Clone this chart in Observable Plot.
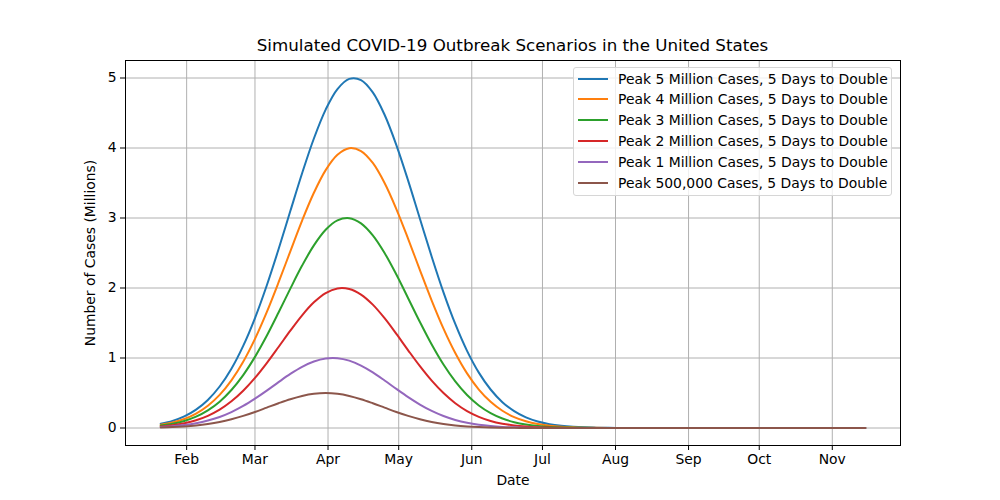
<!DOCTYPE html>
<html>
<head>
<meta charset="utf-8">
<script src="https://cdn.jsdelivr.net/npm/d3@7"></script>
<script src="https://cdn.jsdelivr.net/npm/@observablehq/plot@0.6"></script>
<style>
  html, body { margin: 0; padding: 0; background: white; }
  #wrap { position: relative; width: 1000px; height: 500px; font-family: "DejaVu Sans", sans-serif; }
  #title { position: absolute; left: 125px; width: 775px; top: 35px; text-align: center; font-size: 16.7px; line-height: 20px; color: black; }
  #legend { position: absolute; left: 573px; top: 67px; width: 319px; height: 129px; border: 1px solid #d6d6d6; border-radius: 3px; background: rgba(255,255,255,0.8); box-sizing: border-box; }
  .row { position: absolute; left: 0; height: 20px; font-size: 13.9px; line-height: 20px; color: black; white-space: nowrap; }
  .swatch { position: absolute; left: 4px; top: 9px; width: 30px; height: 0; border-top: 2px solid; }
  .lab { position: absolute; left: 44px; top: 0; }
</style>
</head>
<body>
<div id="wrap">
  <div id="chart"></div>
  <div id="title">Simulated COVID-19 Outbreak Scenarios in the United States</div>
  <div id="legend"></div>
</div>
<script>
// ---- data ----
const dates = [
  "2020-01-21","2020-01-26","2020-01-31","2020-02-05","2020-02-10","2020-02-15","2020-02-20","2020-02-25",
  "2020-03-01","2020-03-06","2020-03-11","2020-03-16","2020-03-21","2020-03-26","2020-03-31","2020-04-05",
  "2020-04-10","2020-04-15","2020-04-20","2020-04-25","2020-04-30","2020-05-05","2020-05-10","2020-05-15",
  "2020-05-20","2020-05-25","2020-05-30","2020-06-04","2020-06-09","2020-06-14","2020-06-19","2020-06-24",
  "2020-06-29","2020-07-04","2020-07-09","2020-07-14","2020-07-19","2020-07-24","2020-07-29","2020-08-03",
  "2020-08-08","2020-09-01","2020-10-01","2020-11-01","2020-11-15"
];
const seriesNames = [
  "Peak 5 Million Cases, 5 Days to Double",
  "Peak 4 Million Cases, 5 Days to Double",
  "Peak 3 Million Cases, 5 Days to Double",
  "Peak 2 Million Cases, 5 Days to Double",
  "Peak 1 Million Cases, 5 Days to Double",
  "Peak 500,000 Cases, 5 Days to Double"
];
const seriesColors = ["#1f77b4", "#ff7f0e", "#2ca02c", "#d62728", "#9467bd", "#8c564b"];
const peak5M = [0.061,0.102,0.166,0.263,0.401,0.593,0.847,1.173,1.571,2.036,2.553,3.099,3.639,4.136,4.549,4.842,4.987,4.971,4.795,4.475,4.042,3.534,2.989,2.447,1.938,1.486,1.102,0.791,0.550,0.369,0.240,0.151,0.092,0.054,0.031,0.017,0.009,0.005,0.002,0.001,0,0,0,0,0];
const peak4M = [0.046,0.078,0.129,0.206,0.318,0.473,0.681,0.947,1.274,1.655,2.079,2.524,2.963,3.360,3.684,3.903,3.997,3.957,3.786,3.500,3.128,2.702,2.256,1.821,1.420,1.071,0.780,0.549,0.374,0.246,0.156,0.096,0.057,0.033,0.018,0.010,0.005,0.003,0.001,0.001,0,0,0,0,0];
const peak3M = [0.035,0.061,0.101,0.162,0.252,0.376,0.543,0.756,1.016,1.317,1.649,1.991,2.320,2.609,2.832,2.966,2.998,2.924,2.752,2.500,2.192,1.854,1.514,1.192,0.906,0.665,0.471,0.322,0.212,0.135,0.083,0.049,0.028,0.015,0.008,0.004,0.002,0.001,0,0,0,0,0,0,0];
const peak2M = [0.023,0.041,0.069,0.111,0.174,0.262,0.381,0.532,0.715,0.927,1.157,1.390,1.610,1.795,1.928,1.994,1.986,1.906,1.762,1.568,1.344,1.110,0.883,0.676,0.499,0.354,0.242,0.160,0.101,0.062,0.037,0.021,0.011,0.006,0.003,0.001,0.001,0,0,0,0,0,0,0,0];
const peak1M = [0.014,0.025,0.042,0.068,0.106,0.158,0.228,0.315,0.419,0.534,0.655,0.772,0.874,0.950,0.993,0.997,0.962,0.891,0.794,0.679,0.558,0.441,0.335,0.244,0.171,0.115,0.074,0.046,0.028,0.016,0.009,0.005,0.002,0.001,0,0,0,0,0,0,0,0,0,0,0];
const peak500K = [0.007,0.013,0.022,0.036,0.057,0.086,0.125,0.173,0.229,0.291,0.353,0.411,0.458,0.489,0.500,0.489,0.458,0.411,0.353,0.291,0.229,0.173,0.125,0.086,0.057,0.036,0.022,0.013,0.007,0.004,0.002,0.001,0,0,0,0,0,0,0,0,0,0,0,0,0];
const monthTicks = ["2020-02-01","2020-03-01","2020-04-01","2020-05-01","2020-06-01","2020-07-01","2020-08-01","2020-09-01","2020-10-01","2020-11-01"];
const yTicks = [0, 1, 2, 3, 4, 5];

// ---- build table ----
const allValues = [peak5M, peak4M, peak3M, peak2M, peak1M, peak500K];
const rows = [];
seriesNames.forEach((name, i) => {
  allValues[i].forEach((v, j) => rows.push({date: new Date(dates[j]), value: v, series: name}));
});
const tickDates = monthTicks.map(d => new Date(d));

// matplotlib-like 5% margins
const t0 = new Date(dates[0]).getTime(), t1 = new Date(dates[dates.length - 1]).getTime();
const pad = (t1 - t0) * 0.05;
const xDomain = [new Date(t0 - pad), new Date(t1 + pad)];
const yDomain = [-0.25, 5.25];

const grid = {stroke: "#b0b0b0", strokeOpacity: 1, strokeWidth: 1};

const chart = Plot.plot({
  width: 1000,
  height: 500,
  marginLeft: 125,
  marginRight: 100,
  marginTop: 60,
  marginBottom: 55,
  style: {fontFamily: "DejaVu Sans, sans-serif", fontSize: "13.9px", background: "white", color: "black", overflow: "visible"},
  x: {type: "utc", domain: xDomain},
  y: {domain: yDomain},
  color: {domain: seriesNames, range: seriesColors},
  marks: [
    Plot.gridX(tickDates, grid),
    Plot.gridY(yTicks, grid),
    Plot.line(rows, {x: "date", y: "value", z: "series", stroke: "series", strokeWidth: 2, curve: "catmull-rom"}),
    Plot.frame({stroke: "black", strokeWidth: 1}),
    Plot.axisX(tickDates, {tickFormat: d3.utcFormat("%b"), tickSize: 5, tickPadding: 4, label: "Date", labelAnchor: "center", labelArrow: "none", labelOffset: 39}),
    Plot.axisY(yTicks, {tickFormat: d => String(d), tickSize: 5, tickPadding: 4, label: "Number of Cases (Millions)", labelAnchor: "center", labelArrow: "none", labelOffset: 40})
  ]
});
document.getElementById("chart").appendChild(chart);

// ---- legend ----
const legend = document.getElementById("legend");
seriesNames.forEach((name, i) => {
  const row = document.createElement("div");
  row.className = "row";
  row.style.top = (0.5 + i * 20.85) + "px";
  const sw = document.createElement("div");
  sw.className = "swatch";
  sw.style.borderTopColor = seriesColors[i];
  const lab = document.createElement("div");
  lab.className = "lab";
  lab.textContent = name;
  row.appendChild(sw);
  row.appendChild(lab);
  legend.appendChild(row);
});
</script>
</body>
</html>
